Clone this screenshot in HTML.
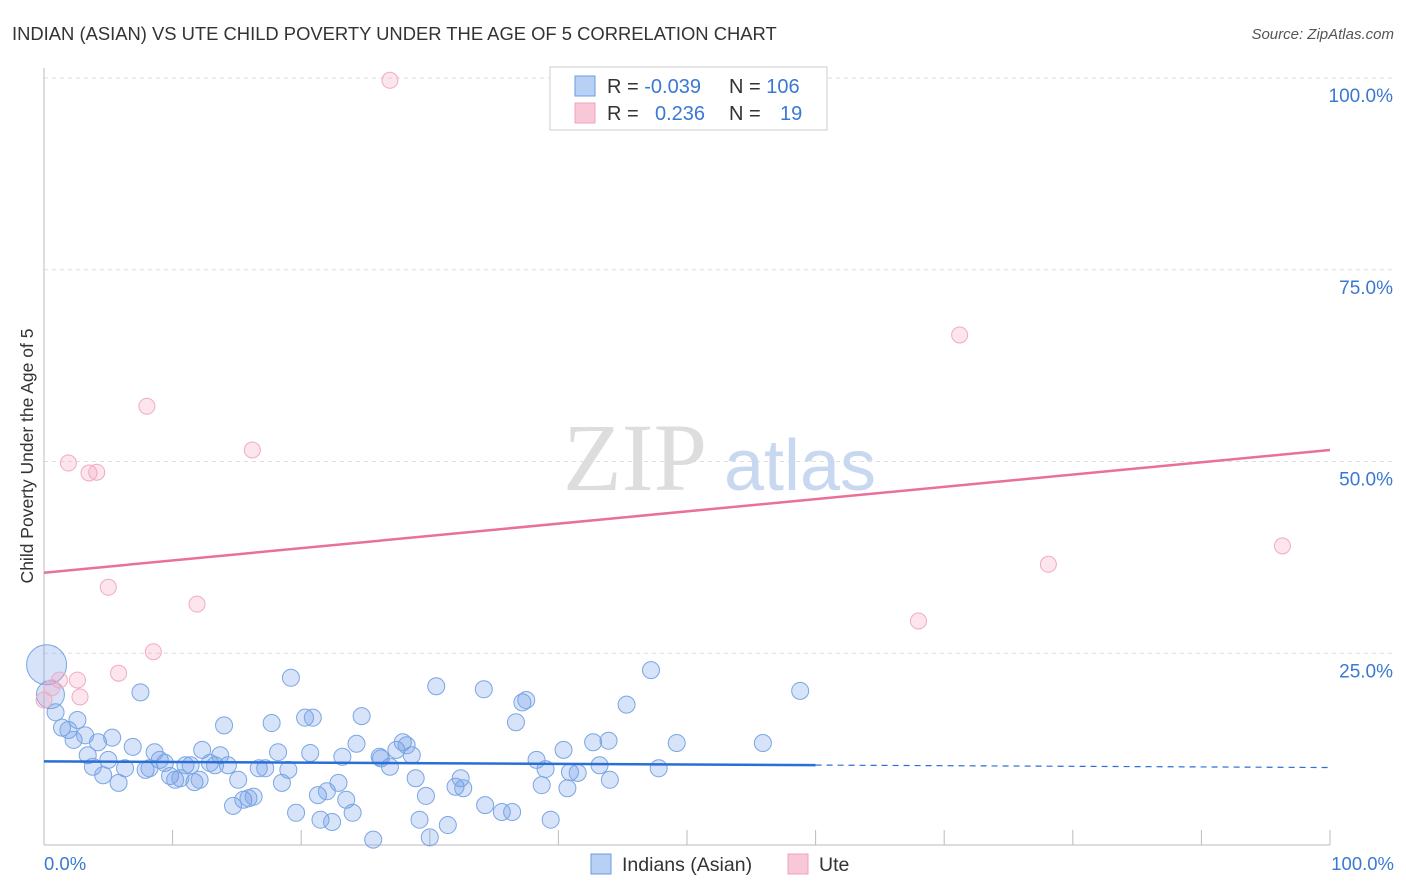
<!DOCTYPE html>
<html><head><meta charset="utf-8"><style>
body{margin:0;background:#fff;font-family:"Liberation Sans",sans-serif;}
svg{display:block}
</style></head><body>
<svg width="1406" height="892" viewBox="0 0 1406 892">
<text x="12" y="40" font-size="18.4" fill="#333">INDIAN (ASIAN) VS UTE CHILD POVERTY UNDER THE AGE OF 5 CORRELATION CHART</text>
<text x="1394" y="39" font-size="15" fill="#555" font-style="italic" text-anchor="end">Source: ZipAtlas.com</text>
<g id="grid"></g>
<g>
<text x="635" y="490" font-family="Liberation Serif,serif" font-size="96" fill="#ddd" text-anchor="middle">ZIP</text>
<text x="800" y="490" font-size="72" fill="#c8d8f0" text-anchor="middle">atlas</text>
</g>
<line x1="44" y1="68" x2="44" y2="845" stroke="#bbb"/>
<line x1="44" y1="845" x2="1330" y2="845" stroke="#bbb"/>
<g id="ticks"></g>
<g id="ylabels"></g>
<text x="44" y="870" font-size="18.5" fill="#3a78d4">0.0%</text>
<text x="1394" y="870" font-size="18.5" fill="#3a78d4" text-anchor="end">100.0%</text>
<text transform="translate(33,456) rotate(-90)" font-size="17.5" fill="#333" text-anchor="middle">Child Poverty Under the Age of 5</text>
<g id="blue"></g>
<g id="pink"></g>
<g id="trends"></g>
<g>
<rect x="550" y="67" width="277" height="63" fill="#fff" stroke="#ccc"/>
<rect x="575" y="76" width="20" height="20" fill="#b8d0f4" stroke="#6a9be0"/>
<rect x="575" y="103" width="20" height="20" fill="#f9c8d8" stroke="#f0a0bc"/>
<text x="607" y="93" font-size="20" fill="#333">R = <tspan fill="#3a78d4">-0.039</tspan><tspan x="729">N = </tspan><tspan fill="#3a78d4">106</tspan></text>
<text x="607" y="120" font-size="20" fill="#333">R = <tspan x="655" fill="#3a78d4">0.236</tspan><tspan x="729">N = </tspan><tspan x="780" fill="#3a78d4">19</tspan></text>
</g>
<g>
<rect x="591" y="854" width="20" height="20" fill="#b8d0f4" stroke="#6a9be0"/>
<text x="622" y="871" font-size="19.5" fill="#333">Indians (Asian)</text>
<rect x="788" y="854" width="20" height="20" fill="#f9c8d8" stroke="#f0a0bc"/>
<text x="819" y="871" font-size="19.5" fill="#333">Ute</text>
</g>
</svg>
<script>
const blueX=[0.2,0.5,0.9,1.4,1.9,2.3,2.6,3.2,3.4,3.8,4.2,4.6,5.3,5.8,5,6.3,6.9,7.5,7.9,8.2,8.6,9,9.4,9.8,10.2,10.6,11,11.4,11.7,12.1,12.3,12.9,13.3,13.7,14,14.3,14.7,15.1,15.5,15.9,16.3,16.7,17.2,17.7,18.2,18.5,19,19.2,19.6,20.3,20.7,20.9,21.3,21.5,22,22.4,22.9,23.2,23.5,24,24.3,24.7,25.6,26.2,26.9,27.4,27.9,28.6,28.9,29.2,29.7,30,30.5,31.4,32,32.4,32.6,34.2,34.3,35.6,36.4,36.7,37.2,37.5,38.3,38.7,39,39.4,40.4,40.7,40.9,41.5,42.7,43.2,43.9,44,45.3,47.2,47.8,49.2,55.9,58.8,28.2,26.1];
const blueY=[23.5,19.6,17.3,15.3,15,13.7,16.3,14.3,11.7,10.2,13.4,9.1,14,8.1,11.1,10,12.8,19.9,9.8,10,12.1,11.1,10.7,9,8.5,8.7,10.4,10.4,8.2,8.5,12.4,10.7,10.4,11.7,15.6,10.4,5.1,8.5,5.9,6.1,6.3,10,10,15.9,12.1,8.1,9.8,21.8,4.2,16.6,12,16.6,6.5,3.3,7,3,8.1,11.5,5.9,4.2,13.2,16.8,0.7,11.3,10.2,12.4,13.4,11.7,8.7,3.3,6.4,1,20.7,2.6,7.6,8.7,7.4,20.3,5.2,4.3,4.3,16,18.6,18.9,11.1,7.8,9.9,3.3,12.4,7.4,9.5,9.4,13.4,10.4,13.6,8.5,18.3,22.8,10,13.3,13.3,20.1,13,11.5];
const blueBig=[20,14];
const pinkX=[0,0.6,1.2,1.9,2.6,2.8,3.5,4.1,5,5.8,8,8.5,11.9,16.2,26.9,68,71.2,78.1,96.3];
const pinkY=[18.9,20.5,21.5,49.8,21.5,19.3,48.5,48.6,33.6,22.4,57.2,25.2,31.4,51.5,99.7,29.2,66.5,36.6,39];
const yTicks=[25,50,75,100];
const yTickLabels=["25.0%","50.0%","75.0%","100.0%"];
const blueTrend=[10.9,10.1];
const pinkTrend=[35.5,51.5];
const blueSolidEnd=60;
const NS="http://www.w3.org/2000/svg";
const X=v=>44+v*12.86, Y=v=>845-v*7.67;
function mk(t,a,p){const e=document.createElementNS(NS,t);for(const k in a)e.setAttribute(k,a[k]);p.appendChild(e);return e;}
const grid=document.getElementById('grid'),yl=document.getElementById('ylabels');
yTicks.forEach((t,i)=>{
 const l=mk('line',{x1:44,x2:1394,y1:Y(t),y2:Y(t),stroke:'#ddd','stroke-dasharray':'4,4'},grid);
 
 
 const tx=mk('text',{x:1393,y:Y(t)+24,'font-size':19,fill:'#3a78d4','text-anchor':'end'},yl);
 tx.textContent=yTickLabels[i];
 
 
});
const tk=document.getElementById('ticks');
for(let i=0;i<=10;i++){const l=mk('line',{x1:X(i*10),x2:X(i*10),y1:830,y2:845,stroke:'#bbb'},tk);
 
 }
const bg=document.getElementById('blue');
blueX.forEach((x,i)=>{const r=i<blueBig.length?blueBig[i]:8.5;
 const c=mk('circle',{cx:X(x),cy:Y(blueY[i]),r:r,fill:'rgba(110,155,230,0.28)',stroke:'#7aa6e4','stroke-width':1},bg);
 
 });
const pg=document.getElementById('pink');
pinkX.forEach((x,i)=>{
 const c=mk('circle',{cx:X(x),cy:Y(pinkY[i]),r:8,fill:'rgba(245,160,190,0.28)',stroke:'#f2aac2','stroke-width':1},pg);
 
 });
const tr=document.getElementById('trends');
const by=x=>blueTrend[0]+(blueTrend[1]-blueTrend[0])*x/100;
let l1=mk('line',{x1:X(0),y1:Y(by(0)),x2:X(blueSolidEnd),y2:Y(by(blueSolidEnd)),stroke:'#2a6fd6','stroke-width':2.5},tr);


let l2=mk('line',{x1:X(blueSolidEnd),y1:Y(by(blueSolidEnd)),x2:X(100),y2:Y(by(100)),stroke:'#2a6fd6','stroke-width':1.2,'stroke-dasharray':'6,5'},tr);


let l3=mk('line',{x1:X(0),y1:Y(pinkTrend[0]),x2:X(100),y2:Y(pinkTrend[1]),stroke:'#e8709a','stroke-width':2.5},tr);


</script>
</body></html>
